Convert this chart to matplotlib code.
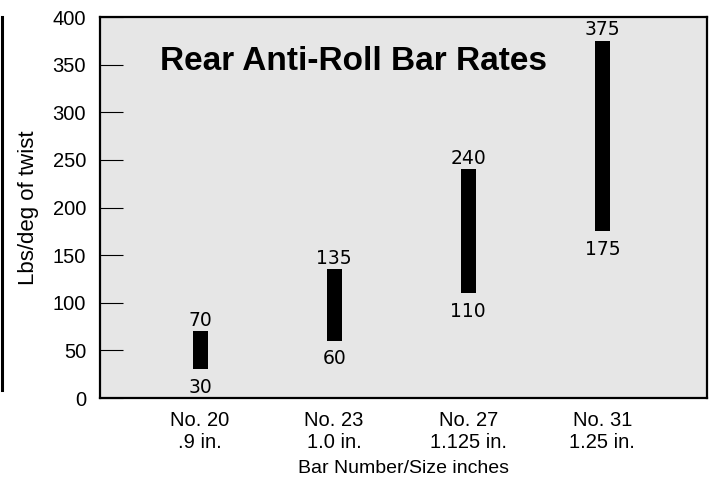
import matplotlib.pyplot as plt
from matplotlib.lines import Line2D

plt.rcParams['font.family'] = ['Liberation Sans', 'DejaVu Sans']

# data
bar_names = ['No. 20', 'No. 23', 'No. 27', 'No. 31']
bar_sizes = ['.9 in.', '1.0 in.', '1.125 in.', '1.25 in.']
rate_low = [30, 60, 110, 175]
rate_high = [70, 135, 240, 375]
y_ticks = [0, 50, 100, 150, 200, 250, 300, 350, 400]

fig = plt.figure(figsize=(7.12, 4.86), dpi=100)
ax = fig.add_axes([0.1404, 0.181, 0.8526, 0.784])
ax.set_facecolor('#e6e6e6')

xpos = list(range(len(bar_names)))
heights = [h - l for h, l in zip(rate_high, rate_low)]
ax.bar(xpos, heights, bottom=rate_low, width=0.112, color='black')

# value labels above / below each bar
for x, lo, hi in zip(xpos, rate_low, rate_high):
    ax.annotate(str(hi), (x, hi), xytext=(0, 4), textcoords='offset points',
                ha='center', va='baseline', fontsize=13.5, family='DejaVu Sans')
    ax.annotate(str(lo), (x, lo), xytext=(0, -6), textcoords='offset points',
                ha='center', va='top', fontsize=13.5, family='DejaVu Sans')

ax.text(0.418, 0.861, 'Rear Anti-Roll Bar Rates', transform=ax.transAxes,
        ha='center', va='baseline', fontsize=24, fontweight='bold')

ax.set_xlim(-0.746, 3.78)
ax.set_ylim(0, 400)
ax.set_yticks(y_ticks)
ax.set_xticks(xpos)
ax.set_xticklabels([n + '\n' + s for n, s in zip(bar_names, bar_sizes)])

ax.tick_params(axis='y', direction='in', length=16.5, width=0.8, pad=10,
               labelsize=14.5)
ax.tick_params(axis='x', length=0, pad=9, labelsize=14.5)

for side in ['top', 'bottom', 'left', 'right']:
    ax.spines[side].set_linewidth(1.6)

ax.set_xlabel('Bar Number/Size inches', fontsize=14, labelpad=6)
ax.set_ylabel('Lbs/deg of twist', fontsize=16, labelpad=10)

# stray vertical rule at the far left edge
fig.add_artist(Line2D([0.003, 0.003], [1 - 17 / 486, 1 - 390 / 486],
                      transform=fig.transFigure, color='black', linewidth=2.2))

plt.savefig('out.png', dpi=100)
